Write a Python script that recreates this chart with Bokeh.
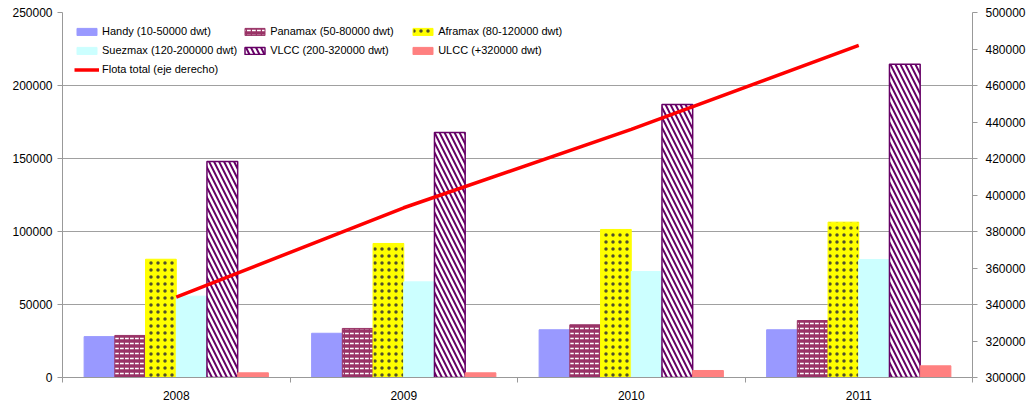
from bokeh.plotting import figure
from bokeh.models import Range1d, LinearAxis, FixedTicker, BasicTickFormatter
from bokeh.embed import file_html
from bokeh.resources import INLINE

years = ["2008", "2009", "2010", "2011"]
series_names = [
    "Handy (10-50000 dwt)",
    "Panamax (50-80000 dwt)",
    "Aframax (80-120000 dwt)",
    "Suezmax (120-200000 dwt)",
    "VLCC (200-320000 dwt)",
    "ULCC (+320000 dwt)",
]
handy = [28000, 30300, 32700, 32700]
panamax = [28800, 33600, 36100, 39000]
aframax = [81000, 91800, 101400, 106400]
suezmax = [55700, 65500, 72600, 80800]
vlcc = [148000, 167800, 187000, 214600]
ulcc = [3200, 3200, 4800, 8000]
flota_total = [344000, 393000, 436000, 482000]
line_name = "Flota total (eje derecho)"

left_ticks = [0, 50000, 100000, 150000, 200000, 250000]
right_ticks = [300000, 320000, 340000, 360000, 380000, 400000, 420000, 440000, 460000, 480000, 500000]

FONT = "Liberation Sans"
AXIS_GRAY = "#999999"

p = figure(width=1029, height=404, output_backend="svg", toolbar_location=None,
           x_range=Range1d(0, len(years)), y_range=Range1d(0, 250000),
           min_border_left=62, min_border_right=57, min_border_top=12, min_border_bottom=27)
p.outline_line_color = None
p.background_fill_color = "white"
p.xgrid.visible = False
p.ygrid.grid_line_color = "#A0A0A0"
p.ygrid.ticker = FixedTicker(ticks=left_ticks)

p.extra_y_ranges = {"right": Range1d(300000, 500000)}

styles = [
    dict(fill_color="#9999FF", line_color="#9999FF"),
    dict(fill_color="#993366", line_color="#993366", hatch_pattern="horizontal_dash",
         hatch_color="white", hatch_scale=5, hatch_weight=1.5),
    dict(fill_color="#FFFF00", line_color="#FFFF00", hatch_pattern="dot",
         hatch_color="#333333", hatch_scale=7, hatch_weight=1, hatch_alpha=0.85),
    dict(fill_color="#CCFFFF", line_color="#CCFFFF"),
    dict(fill_color="white", line_color="#660066", line_width=1.5, hatch_pattern="left_diagonal_line",
         hatch_color="#660066", hatch_scale=10, hatch_weight=2),
    dict(fill_color="#FF8080", line_color="#FF8080"),
]
all_series = [handy, panamax, aframax, suezmax, vlcc, ulcc]
bar_w = 0.135
n = len(all_series)
centers = [i + 0.5 for i in range(len(years))]
for j, (vals, name, st) in enumerate(zip(all_series, series_names, styles)):
    xs = [c + (j - (n - 1) / 2) * bar_w for c in centers]
    p.vbar(x=xs, top=vals, bottom=0, width=bar_w, legend_label=name, **st)

p.line(x=centers, y=flota_total, y_range_name="right", line_color="#FF0000", line_width=3.5,
       legend_label=line_name)

# x axis
xa = p.xaxis[0]
xa.ticker = FixedTicker(ticks=centers, minor_ticks=list(range(len(years) + 1)))
xa.major_label_overrides = {c: y for c, y in zip(centers, years)}
xa.major_tick_out = 0
xa.major_tick_in = 0
xa.minor_tick_out = 5
xa.minor_tick_in = 0
xa.minor_tick_line_color = AXIS_GRAY
xa.axis_line_color = AXIS_GRAY
xa.major_label_text_font = FONT
xa.major_label_text_font_size = "12px"
xa.major_label_text_color = "black"
xa.major_label_standoff = 8

ya = p.yaxis[0]
ya.ticker = FixedTicker(ticks=left_ticks)
ya.formatter = BasicTickFormatter(use_scientific=False)
ya.major_tick_out = 5
ya.major_tick_in = 0
ya.minor_tick_out = 0
ya.minor_tick_in = 0
ya.axis_line_color = AXIS_GRAY
ya.major_tick_line_color = AXIS_GRAY
ya.major_label_text_font = FONT
ya.major_label_text_font_size = "12px"
ya.major_label_text_color = "black"
ya.major_label_standoff = 5

ra = LinearAxis(y_range_name="right", ticker=FixedTicker(ticks=right_ticks),
                formatter=BasicTickFormatter(use_scientific=False))
ra.major_tick_out = 5
ra.major_tick_in = 0
ra.minor_tick_out = 0
ra.minor_tick_in = 0
ra.axis_line_color = AXIS_GRAY
ra.major_tick_line_color = AXIS_GRAY
ra.major_label_text_font = FONT
ra.major_label_text_font_size = "12px"
ra.major_label_text_color = "black"
ra.major_label_standoff = 8
p.add_layout(ra, "right")

lg = p.legend[0]
lg.location = "top_left"
lg.orientation = "horizontal"
lg.ncols = 3
lg.border_line_color = None
lg.background_fill_alpha = 0
lg.label_text_font = FONT
lg.label_text_font_size = "11px"
lg.label_text_color = "black"
lg.glyph_width = 25
lg.glyph_height = 9
lg.label_height = 14
lg.label_width = 135
lg.label_standoff = 3
lg.spacing = 5
lg.padding = 10
lg.margin = 12

open("out.html", "w").write(file_html(p, INLINE))
